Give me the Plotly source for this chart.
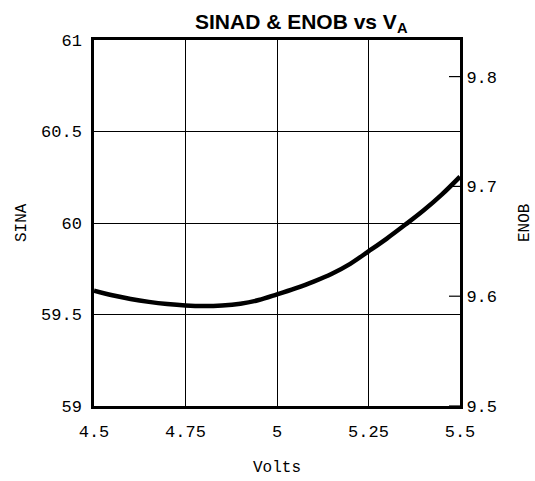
import plotly.graph_objects as go

volts = [4.5, 4.55, 4.6, 4.65, 4.7, 4.75, 4.8, 4.85, 4.9, 4.95, 5.0,
         5.05, 5.1, 5.15, 5.2, 5.25, 5.3, 5.35, 5.4, 5.45, 5.5]
sinad = [59.63, 59.605, 59.585, 59.569, 59.557, 59.549, 59.546, 59.549, 59.559, 59.579, 59.61,
         59.643, 59.68, 59.723, 59.777, 59.845, 59.915, 59.99, 60.068, 60.155, 60.253]

sinad_ticks = [59, 59.5, 60, 60.5, 61]
sinad_labels = ["59", "59.5", "60", "60.5", "61"]
enob_ticks = [9.5, 9.6, 9.7, 9.8]
enob_labels = ["9.5", "9.6", "9.7", "9.8"]
volt_ticks = [4.5, 4.75, 5, 5.25, 5.5]
volt_labels = ["4.5", "4.75", "5", "5.25", "5.5"]

tick_font = dict(family="Liberation Mono", size=17, color="black")
lab_font = dict(family="Liberation Mono", size=16, color="black")

pad = '<span style="font-size:9px">\u00a0</span>'

PLOT_L, PLOT_R = 94, 460
TICKLEN = 11
x_range = [volt_ticks[0], volt_ticks[-1]]
ticklen_data = TICKLEN * (x_range[1] - x_range[0]) / (PLOT_R - PLOT_L)

fig = go.Figure()
fig.add_trace(go.Scatter(x=volts, y=sinad, mode="lines",
                         line=dict(color="black", width=4.5, shape="spline", smoothing=1.0),
                         showlegend=False, hoverinfo="skip"))

# inward tick marks of the right-hand ENOB axis: short segments from the frame into the plot
tick_x, tick_y = [], []
for t in enob_ticks:
    tick_x += [x_range[1] - ticklen_data, x_range[1], None]
    tick_y += [t, t, None]
fig.add_trace(go.Scatter(x=tick_x, y=tick_y, yaxis="y2", mode="lines",
                         line=dict(color="black", width=1.2),
                         showlegend=False, hoverinfo="skip"))

fig.update_layout(
    width=535, height=481,
    margin=dict(l=PLOT_L, r=535 - PLOT_R, t=40, b=75),
    paper_bgcolor="white", plot_bgcolor="white",
    xaxis=dict(range=x_range, tickvals=volt_ticks, ticktext=volt_labels,
               showgrid=True, gridcolor="black", gridwidth=1.2,
               showline=True, linecolor="black", linewidth=2.5, mirror=True,
               ticks="", tickfont=tick_font, zeroline=False, ticklabelstandoff=8),
    yaxis=dict(range=[59, 61], tickvals=sinad_ticks, ticktext=sinad_labels,
               showgrid=True, gridcolor="black", gridwidth=1.2,
               showline=True, linecolor="black", linewidth=2.5, mirror=True,
               ticks="", tickfont=tick_font, zeroline=False, ticklabelstandoff=6),
    yaxis2=dict(range=[9.5, 9.5 + 2 / 6], overlaying="y", side="right", anchor="x",
                tickvals=enob_ticks, ticktext=[pad + t for t in enob_labels],
                showgrid=False, showline=False, zeroline=False,
                ticks="", tickfont=tick_font),
    annotations=[
        dict(text="<b>SINAD &amp; ENOB vs V<sub>A</sub></b>", xref="paper", yref="paper",
             x=0.566, y=1 + 17 / 366, xanchor="center", yanchor="middle", showarrow=False,
             font=dict(family="Liberation Sans", size=21, color="black")),
        dict(text="SINA", xref="paper", yref="paper", x=(22 - 94) / 366, y=0.5,
             textangle=-90, xanchor="center", yanchor="middle", showarrow=False, font=lab_font),
        dict(text="ENOB", xref="paper", yref="paper", x=(525 - 94) / 366, y=0.5,
             textangle=-90, xanchor="center", yanchor="middle", showarrow=False, font=lab_font),
        dict(text="Volts", xref="paper", yref="paper", x=(277 - 94) / 366, y=-(468 - 406) / 366,
             xanchor="center", yanchor="middle", showarrow=False, font=lab_font),
    ],
)

fig.write_html("out.html", config={"displayModeBar": False},
               post_script="document.body.style.margin='0';document.body.style.overflow='hidden';")
